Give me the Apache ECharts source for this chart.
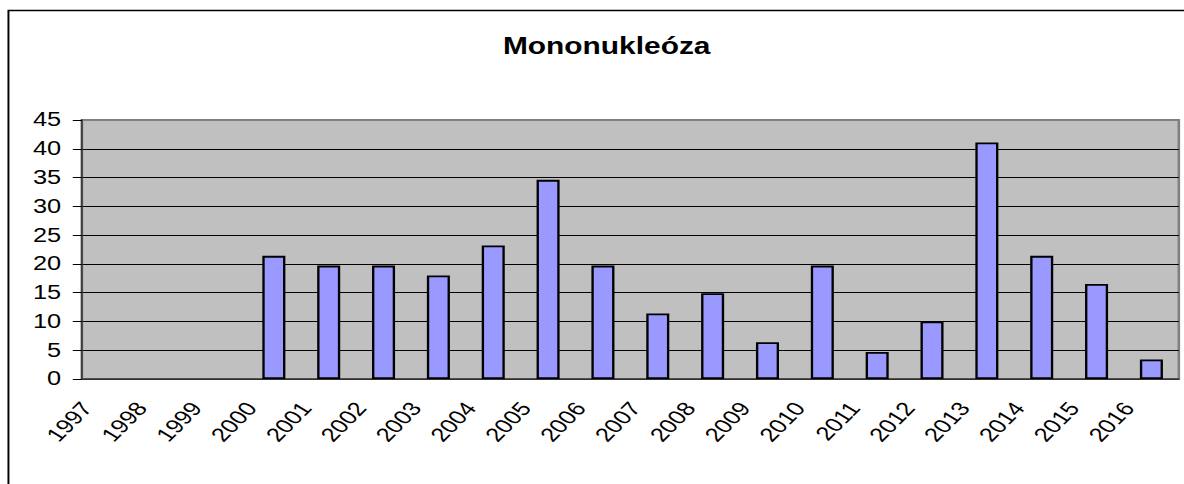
<!DOCTYPE html>
<html>
<head>
<meta charset="utf-8">
<script src="https://cdn.jsdelivr.net/npm/echarts@6/dist/echarts.min.js"></script>
<style>
  html, body { margin: 0; padding: 0; background: #fff; overflow: hidden; }
  /* the reference is stretched sideways, so draw narrow and widen it */
  #main { width: 911px; height: 484px; transform: scaleX(1.2997); transform-origin: 0 0; }
</style>
</head>
<body>
<div id="main"></div>
<script>
var titleText = 'Mononukleóza';
var years = ['1997','1998','1999','2000','2001','2002','2003','2004','2005','2006',
             '2007','2008','2009','2010','2011','2012','2013','2014','2015','2016'];
var cases = ['-','-','-',21.4,19.7,19.7,18.0,23.2,34.6,19.7,
             11.4,14.9,6.4,19.7,4.7,10.0,41.1,21.4,16.5,3.4];
var yTicks = { min: 0, max: 45, interval: 5 };

var chart = echarts.init(document.getElementById('main'), null, { renderer: 'svg' });

// gridlines black, the top one (45) grey like the plot border
var gridColors = [];
for (var i = 0; i < 9; i++) gridColors.push('#000');
gridColors.push('#808080');

var option = {
	animation: false,
	textStyle: { fontFamily: 'Liberation Sans, Arial, sans-serif' },
	title: {
		text: titleText,
		left: 387,
		top: 35,
		padding: 0,
		textStyle: { fontSize: 23, fontWeight: 'bold', color: '#000', fontFamily: 'Liberation Sans, Arial, sans-serif' }
	},
	graphic: [{
		// chart frame, only left and top edges are inside the picture
		type: 'polyline',
		shape: { points: [[6.5, 484], [6.5, 10.5], [911, 10.5]] },
		style: { fill: 'none', stroke: '#000', lineWidth: 1.5 },
		silent: true
	}],
	grid: {
		left: 63,
		right: 4,
		top: 120,
		bottom: 105,
		show: true,
		backgroundColor: '#c0c0c0',
		borderColor: '#808080',
		borderWidth: 2
	},
	xAxis: {
		type: 'category',
		data: years,
		axisLine: { lineStyle: { color: '#404040', width: 1.5 } },
		axisTick: { length: 8, lineStyle: { color: '#000' } },
		axisLabel: {
			interval: 0,
			rotate: 52,
			margin: 24,
			fontSize: 19.5,
			color: '#000',
			formatter: function (v) { return '{y|' + v + '}'; },
			rich: {
				y: { fontSize: 19.5, color: '#000', padding: [0, 12, 25, 0] }
			}
		},
		splitLine: { show: false }
	},
	yAxis: {
		type: 'value',
		min: yTicks.min,
		max: yTicks.max,
		interval: yTicks.interval,
		axisLine: { show: true, lineStyle: { color: '#404040', width: 1.5 } },
		axisTick: { show: true, length: 7, lineStyle: { color: '#000' } },
		axisLabel: { fontSize: 19.5, color: '#000', margin: 16 },
		splitLine: { lineStyle: { color: gridColors, width: 1 } }
	},
	series: [{
		type: 'bar',
		data: cases,
		barWidth: '42%',
		itemStyle: { color: '#9999ff', borderColor: '#000', borderWidth: 1.8 }
	}]
};
chart.setOption(option);
</script>
</body>
</html>
